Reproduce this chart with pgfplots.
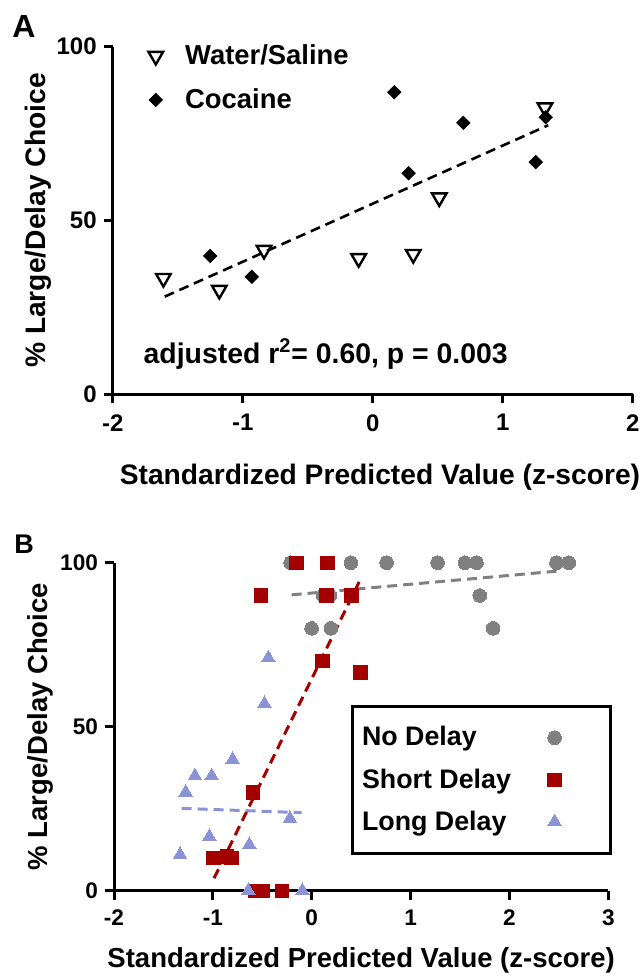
\documentclass[border=0pt]{standalone}
\usepackage{fontspec}
\setmainfont{Liberation Sans}
\usepackage{pgfplots}
\pgfplotsset{compat=1.18}
\definecolor{ndgray}{RGB}{128,128,128}
\definecolor{sdred}{RGB}{163,0,0}
\definecolor{ldblue}{RGB}{140,146,214}
\pgfplotsset{gpstyle/.style={
  scale only axis, axis x line=bottom, axis y line=left,
  axis line style={line width=1.5pt,-},
  every tick/.style={line width=1.5pt,black},
  tick align=outside, major tick length=4.5pt,
  /pgf/number format/assume math mode=true,
  clip=false,
}}
\begin{document}
\begin{tikzpicture}
\useasboundingbox (0,0) rectangle (321.5pt,-489pt);
% ---------------- Panel A ----------------
\node[anchor=base west,font=\fontsize{16}{18}\selectfont\bfseries,inner sep=0pt] at (6pt,-18.6pt) {A};
\begin{axis}[gpstyle,
  at={(56.35pt,-197.15pt)}, anchor=south west,
  width=260pt, height=173.8pt,
  xmin=-2, xmax=2, ymin=0, ymax=100,
  xtick={-2,-1,0,1,2}, xticklabels={-2,-1,0,1,2},
  ytick={0,50,100}, yticklabels={0,50,100},
  ticklabel style={font=\fontsize{12}{14}\selectfont\bfseries},
  xticklabel style={yshift=-2pt},
  ylabel={\% Large/Delay Choice},
  every axis y label/.style={at={(axis description cs:-0.1435,0.5)},anchor=center,rotate=90,font=\fontsize{14.1}{16}\selectfont\bfseries},
  legend style={at={(axis cs:-1.79,103)},anchor=north west,draw=none,fill=none,
    font=\fontsize{13.7}{16}\selectfont\bfseries,row sep=6.5pt,cells={anchor=west}},
  legend image code/.code={\draw[#1] plot coordinates {(0pt,0pt)}; \path (-4.5pt,0pt) (12.5pt,0pt);},
]
\addplot[only marks, mark=triangle, mark size=4.2pt, mark options={rotate=180,fill=white,draw=black,line width=1.2pt}]
  coordinates {(-1.61,33.4) (-1.18,30.0) (-0.836,41.5) (-0.108,39.1) (0.312,40.3) (0.512,56.6) (1.325,82.5)};
\addlegendentry{Water/Saline}
\addplot[only marks, mark=square*, mark size=2.35pt, mark options={rotate=45,fill=black,draw=black}]
  coordinates {(-1.25,39.8) (-0.93,33.8) (0.166,86.9) (0.276,63.6) (0.697,78.1) (1.254,66.8) (1.331,79.7)};
\addlegendentry{Cocaine}
\addplot[black, line width=1.3pt, dash pattern=on 5pt off 3pt, forget plot]
  coordinates {(-1.60,28.1) (1.35,77.4)};
\node[anchor=base west,font=\fontsize{14.2}{16}\selectfont\bfseries,inner sep=0pt] at (axis cs:-1.765,8.9) {adjusted r\textsuperscript{2}= 0.60, p = 0.003};
\end{axis}
\node[anchor=center,font=\fontsize{14.1}{16}\selectfont\bfseries] at (190pt,-238.5pt) {Standardized Predicted Value (z-score)};
% ---------------- Panel B ----------------
\node[anchor=base west,font=\fontsize{13.5}{16}\selectfont\bfseries,inner sep=0pt] at (7pt,-276.65pt) {B};
\begin{axis}[gpstyle,
  at={(57pt,-445.35pt)}, anchor=south west,
  width=247.15pt, height=164pt,
  xmin=-2, xmax=3, ymin=0, ymax=100,
  xtick={-2,-1,0,1,2,3}, xticklabels={-2,-1,0,1,2,3},
  ytick={0,50,100}, yticklabels={0,50,100},
  ticklabel style={font=\fontsize{11.3}{13}\selectfont\bfseries},
  xticklabel style={yshift=-1.5pt},
  xlabel={Standardized Predicted Value (z-score)},
  ylabel={\% Large/Delay Choice},
  every axis x label/.style={at={(axis description cs:0.5,-0.2134)},anchor=center,font=\fontsize{13.75}{16}\selectfont\bfseries},
  every axis y label/.style={at={(axis description cs:-0.1497,0.5)},anchor=center,rotate=90,font=\fontsize{13.75}{16}\selectfont\bfseries},
  legend plot pos=right,
  legend style={at={(axis cs:0.393,56.6)},anchor=north west,draw=black,line width=1.5pt,fill=white,
    font=\fontsize{13.4}{16}\selectfont\bfseries,row sep=5.8pt,inner ysep=8pt,cells={anchor=west}},
  legend image code/.code={\draw[#1] plot coordinates {(0pt,0pt)}; \path (-3.5pt,0pt) (24pt,0pt);},
]
\addplot[only marks, mark=*, mark size=3.4pt, mark options={fill=ndgray,draw=ndgray,line width=0pt}]
  coordinates {(-0.213,100) (0.396,100) (0.757,100) (1.273,100) (1.549,100) (1.667,100) (2.476,100) (2.60,100)
               (0.116,90) (0.184,90) (1.70,90) (-0.001,80) (0.194,80) (1.835,80)};
\addlegendentry{\makebox[90pt][l]{No Delay}}
\addplot[only marks, mark=square*, mark size=3.35pt, mark options={fill=sdred,draw=sdred,line width=0pt}]
  coordinates {(-0.153,100) (0.161,100) (-0.516,90) (0.15,90) (0.403,90) (0.111,70) (0.495,66.5) (-0.591,30)
               (-0.995,10) (-0.86,10.4) (-0.81,10) (-0.57,0) (-0.49,0) (-0.30,0)};
\addlegendentry{\makebox[90pt][l]{Short Delay}}
\addplot[only marks, mark=triangle*, mark size=3.9pt, mark options={fill=ldblue,draw=ldblue,line width=0pt}]
  coordinates {(-0.439,71) (-0.479,57) (-0.80,40) (-1.181,35) (-1.012,35) (-1.275,30) (-0.22,22) (-1.036,16.5)
               (-0.631,14) (-1.332,11) (-0.641,0) (-0.095,0)};
\addlegendentry{\makebox[90pt][l]{Long Delay}}
\addplot[ndgray, line width=1.5pt, dash pattern=on 5pt off 3pt, forget plot]
  coordinates {(-0.203,90.2) (2.51,97.5)};
\addplot[sdred, line width=1.5pt, dash pattern=on 5pt off 3pt, forget plot]
  coordinates {(-0.988,3.8) (0.481,94.2)};
\addplot[ldblue, line width=1.5pt, dash pattern=on 5pt off 3pt, forget plot]
  coordinates {(-1.316,25.1) (-0.102,23.8)};
\end{axis}
\end{tikzpicture}
\end{document}
